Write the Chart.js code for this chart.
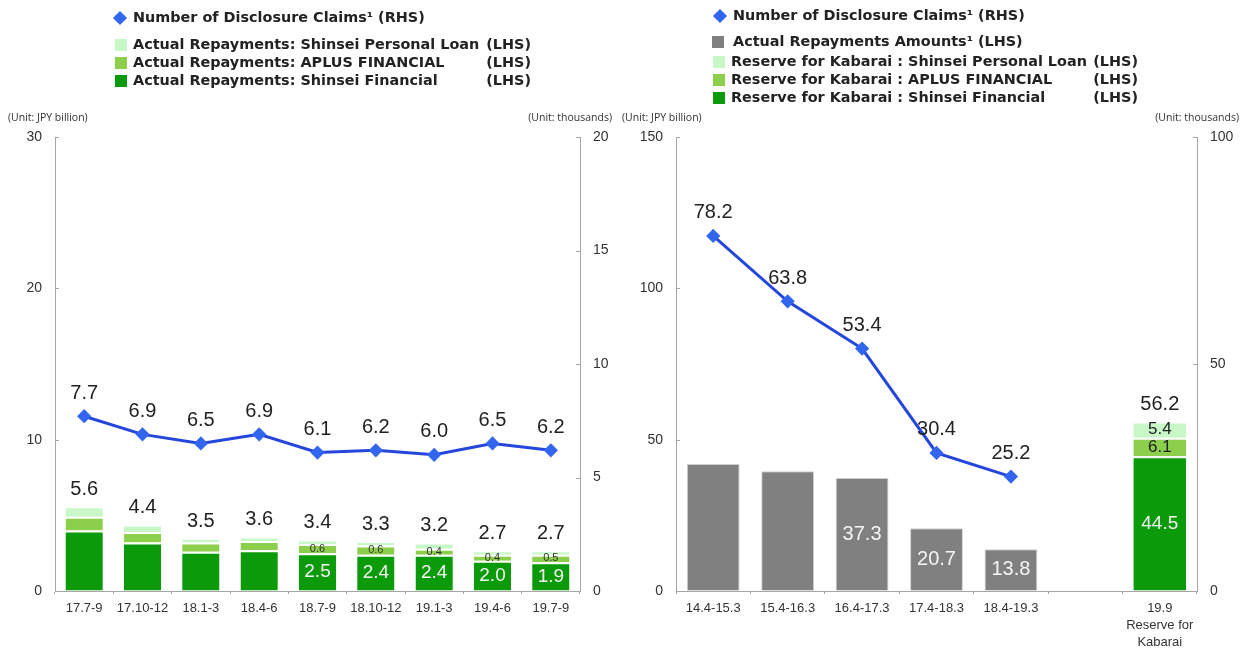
<!DOCTYPE html>
<html>
<head>
<meta charset="utf-8">
<script src="https://cdn.jsdelivr.net/npm/chart.js@4.4.1/dist/chart.umd.min.js"></script>
<style>
  html, body { margin: 0; padding: 0; background: #fff; }
  #page { position: relative; width: 1245px; height: 650px; overflow: hidden; font-family: "Liberation Sans", Arial, sans-serif; }
  canvas { position: absolute; top: 0; }
  #cvLeft { left: 0; }
  #cvRight { left: 620px; }
  .lg { position: absolute; font-family: "DejaVu Sans", Verdana, sans-serif; font-weight: bold; font-size: 14.4px; color: #222; white-space: nowrap; line-height: 17px; }
  .lg .tag { position: absolute; top: 0; }
  .sq { position: absolute; width: 12px; height: 12px; }
  .dia { position: absolute; width: 10px; height: 10px; background: #3366ee; transform: rotate(45deg); }
  .unit { position: absolute; font-family: "Open Sans", sans-serif; font-size: 10.5px; color: #333; white-space: nowrap; }
</style>
</head>
<body>
<div id="page">
  <canvas id="cvLeft" width="620" height="650"></canvas>
  <canvas id="cvRight" width="625" height="650"></canvas>

  <!-- left legend -->
  <div class="dia" style="left:115px; top:13px;"></div>
  <div class="lg" style="left:133px; top:9px;">Number of Disclosure Claims¹ (RHS)</div>
  <div class="sq" style="left:115px; top:39px; background:#c8f7c8;"></div>
  <div class="lg" style="left:133px; top:36px; width:398px;">Actual Repayments: Shinsei Personal Loan<span class="tag" style="right:0">(LHS)</span></div>
  <div class="sq" style="left:115px; top:57px; background:#8ccf4d;"></div>
  <div class="lg" style="left:133px; top:54px; width:398px;">Actual Repayments: APLUS FINANCIAL<span class="tag" style="right:0">(LHS)</span></div>
  <div class="sq" style="left:115px; top:75px; background:#0a9a0a;"></div>
  <div class="lg" style="left:133px; top:72px; width:398px;">Actual Repayments: Shinsei Financial<span class="tag" style="right:0">(LHS)</span></div>

  <!-- right legend -->
  <div class="dia" style="left:715px; top:11px;"></div>
  <div class="lg" style="left:733px; top:7px;">Number of Disclosure Claims¹ (RHS)</div>
  <div class="sq" style="left:712px; top:36px; background:#808080;"></div>
  <div class="lg" style="left:733px; top:33px;">Actual Repayments Amounts¹ (LHS)</div>
  <div class="sq" style="left:713px; top:56px; background:#c8f7c8;"></div>
  <div class="lg" style="left:731px; top:53px; width:407px;">Reserve for Kabarai : Shinsei Personal Loan<span class="tag" style="right:0">(LHS)</span></div>
  <div class="sq" style="left:713px; top:74px; background:#8ccf4d;"></div>
  <div class="lg" style="left:731px; top:71px; width:407px;">Reserve for Kabarai : APLUS FINANCIAL<span class="tag" style="right:0">(LHS)</span></div>
  <div class="sq" style="left:713px; top:92px; background:#0a9a0a;"></div>
  <div class="lg" style="left:731px; top:89px; width:407px;">Reserve for Kabarai : Shinsei Financial<span class="tag" style="right:0">(LHS)</span></div>

  <!-- unit captions -->
  <div class="unit" style="left:8px; top:110px;">(Unit: JPY billion)</div>
  <div class="unit" style="right:633px; top:110px;">(Unit: thousands)</div>
  <div class="unit" style="left:622px; top:110px;">(Unit: JPY billion)</div>
  <div class="unit" style="right:6px; top:110px;">(Unit: thousands)</div>
</div>

<script>
// ---- quarterly panel ----
const quarters = ['17.7-9', '17.10-12', '18.1-3', '18.4-6', '18.7-9', '18.10-12', '19.1-3', '19.4-6', '19.7-9'];
const claimsQuarterly = [7.7, 6.9, 6.5, 6.9, 6.1, 6.2, 6.0, 6.5, 6.2];           // thousands (RHS)
const shinseiFinancialQ = [4.0, 3.2, 2.6, 2.7, 2.5, 2.4, 2.4, 2.0, 1.9];         // JPY bn (LHS)
const aplusQ = [0.9, 0.7, 0.6, 0.6, 0.6, 0.6, 0.4, 0.4, 0.5];
const personalLoanQ = [0.7, 0.5, 0.3, 0.3, 0.3, 0.3, 0.4, 0.3, 0.3];
const totalsQ = [5.6, 4.4, 3.5, 3.6, 3.4, 3.3, 3.2, 2.7, 2.7];
const leftTicksLHS = [0, 10, 20, 30];
const leftTicksRHS = [0, 5, 10, 15, 20];

// ---- annual panel ----
const periods = ['14.4-15.3', '15.4-16.3', '16.4-17.3', '17.4-18.3', '18.4-19.3', '', ['19.9', 'Reserve for', 'Kabarai']];
const claimsAnnual = [78.2, 63.8, 53.4, 30.4, 25.2, null, null];              // thousands (RHS)
const repaymentAmounts = [42.0, 39.6, 37.3, 20.7, 13.8, null, null];          // JPY bn (LHS)
const reserveShinseiFinancial = [null, null, null, null, null, null, 44.5];
const reserveAplus = [null, null, null, null, null, null, 6.1];
const reservePersonalLoan = [null, null, null, null, null, null, 5.4];
const reserveTotals = [null, null, null, null, null, null, 56.2];
const rightTicksLHS = [0, 50, 100, 150];
const rightTicksRHS = [0, 50, 100];

const C_DARK = '#0a9a0a', C_MID = '#8ccf4d', C_LIGHT = '#c8f7c8', C_GRAY = '#808080';
const C_LINE = '#2446dc', C_POINT = '#3366ee', C_AXIS = '#a6a6a6';
const NUM_FONT = '"Liberation Sans", Arial, sans-serif';

// value labels drawn on top of the datasets
const valueLabels = {
  id: 'valueLabels',
  afterDatasetsDraw(chart, args, opts) {
    const ctx = chart.ctx;
    ctx.save();
    ctx.textAlign = 'center';
    ctx.textBaseline = 'middle';
    (opts.items || []).forEach(it => {
      const meta = chart.getDatasetMeta(it.dataset);
      const data = chart.data.datasets[it.dataset].data;
      meta.data.forEach((el, i) => {
        const v = data[i];
        if (v == null) return;
        if (it.only && !it.only.includes(i)) return;
        const y = it.pos === 'center' ? (el.y + el.base) / 2 : el.y - it.offset;
        ctx.font = (it.weight || 'normal') + ' ' + it.size + 'px ' + NUM_FONT;
        ctx.fillStyle = it.color;
        ctx.fillText(v.toFixed(1), el.x, y);
      });
    });
    if (opts.totals) {
      const t = opts.totals;
      const meta = chart.getDatasetMeta(t.dataset);
      meta.data.forEach((el, i) => {
        const v = t.values[i];
        if (v == null) return;
        ctx.font = t.size + 'px ' + NUM_FONT;
        ctx.fillStyle = t.color;
        ctx.fillText(v.toFixed(1), el.x, el.y - t.offset);
      });
    }
    ctx.restore();
  }
};

// short tick marks on the inner side of both value axes
const innerTicks = {
  id: 'innerTicks',
  afterDraw(chart) {
    const ctx = chart.ctx;
    ctx.save();
    ctx.strokeStyle = C_AXIS;
    ctx.lineWidth = 1;
    ['y', 'y1'].forEach(id => {
      const s = chart.scales[id];
      if (!s) return;
      const x0 = s.position === 'left' ? s.right : s.left;
      const dir = s.position === 'left' ? 1 : -1;
      s.ticks.forEach(t => {
        const y = Math.round(s.getPixelForValue(t.value)) + 0.5;
        ctx.beginPath();
        ctx.moveTo(x0, y);
        ctx.lineTo(x0 + dir * 4, y);
        ctx.stroke();
      });
    });
    ctx.restore();
  }
};

function valueAxis(position, min, max, ticks, width) {
  return {
    position, min, max,
    stacked: position === 'left',
    afterBuildTicks(s) { s.ticks = ticks.map(v => ({ value: v })); },
    afterFit(s) { s.width = width; },
    ticks: { color: '#333', padding: 13, font: { family: NUM_FONT, size: 14 } },
    grid: { display: true, drawOnChartArea: false, drawTicks: false },
    border: { display: true, color: C_AXIS, width: 1 }
  };
}

function categoryAxis(height) {
  return {
    stacked: true,
    offset: true,
    afterFit(s) { s.height = height; },
    ticks: { color: '#333', padding: 6, maxRotation: 0, autoSkip: false, font: { family: NUM_FONT, size: 13, lineHeight: 1.3 } },
    grid: { display: true, drawOnChartArea: false, drawTicks: true, tickLength: 3, color: C_AXIS, offset: true },
    border: { display: true, color: C_AXIS, width: 1 }
  };
}

const lineStyle = {
  type: 'line', yAxisID: 'y1', borderColor: C_LINE, borderWidth: 3,
  pointStyle: 'rectRot', pointRadius: 5, pointBackgroundColor: C_POINT, pointBorderColor: C_POINT,
  tension: 0, order: 0, spanGaps: false
};
const segBorder = { borderColor: '#ffffff', borderWidth: { top: 2, left: 0, right: 0, bottom: 0 }, borderSkipped: false };

new Chart(document.getElementById('cvLeft'), {
  data: {
    labels: quarters,
    datasets: [
      Object.assign({ label: 'Number of Disclosure Claims', data: claimsQuarterly }, lineStyle),
      Object.assign({ type: 'bar', label: 'Shinsei Financial', data: shinseiFinancialQ, backgroundColor: C_DARK, yAxisID: 'y', order: 1 }, segBorder),
      Object.assign({ type: 'bar', label: 'APLUS FINANCIAL', data: aplusQ, backgroundColor: C_MID, yAxisID: 'y', order: 1 }, segBorder),
      Object.assign({ type: 'bar', label: 'Shinsei Personal Loan', data: personalLoanQ, backgroundColor: C_LIGHT, yAxisID: 'y', order: 1 }, segBorder)
    ]
  },
  options: {
    responsive: false, animation: false,
    datasets: { bar: { categoryPercentage: 1, barPercentage: 0.64 } },
    layout: { padding: { top: 137, left: 0, right: 0, bottom: 0 } },
    scales: {
      x: categoryAxis(59),
      y: valueAxis('left', 0, 30, leftTicksLHS, 55),
      y1: valueAxis('right', 0, 20, leftTicksRHS, 40)
    },
    plugins: {
      legend: { display: false }, tooltip: { enabled: false },
      valueLabels: {
        items: [
          { dataset: 0, pos: 'above', offset: 23, size: 20, color: '#222' },
          { dataset: 1, pos: 'center', size: 19, color: '#f4f4f4', only: [4, 5, 6, 7, 8] },
          { dataset: 2, pos: 'center', size: 11, color: '#333', only: [4, 5, 6, 7, 8] }
        ],
        totals: { dataset: 3, values: totalsQ, offset: 17, size: 20, color: '#222' }
      }
    }
  },
  plugins: [valueLabels, innerTicks]
});

new Chart(document.getElementById('cvRight'), {
  data: {
    labels: periods,
    datasets: [
      Object.assign({ label: 'Number of Disclosure Claims', data: claimsAnnual }, lineStyle),
      { type: 'bar', label: 'Actual Repayments Amounts', data: repaymentAmounts, backgroundColor: C_GRAY, borderColor: '#d0d0d0', borderWidth: 1, yAxisID: 'y', order: 1 },
      Object.assign({ type: 'bar', label: 'Reserve: Shinsei Financial', data: reserveShinseiFinancial, backgroundColor: C_DARK, yAxisID: 'y', order: 1 }, segBorder),
      Object.assign({ type: 'bar', label: 'Reserve: APLUS FINANCIAL', data: reserveAplus, backgroundColor: C_MID, yAxisID: 'y', order: 1 }, segBorder),
      Object.assign({ type: 'bar', label: 'Reserve: Shinsei Personal Loan', data: reservePersonalLoan, backgroundColor: C_LIGHT, yAxisID: 'y', order: 1 }, segBorder)
    ]
  },
  options: {
    responsive: false, animation: false,
    datasets: { bar: { categoryPercentage: 1, barPercentage: 0.71 } },
    layout: { padding: { top: 137, left: 0, right: 0, bottom: 0 } },
    scales: {
      x: categoryAxis(59),
      y: valueAxis('left', 0, 150, rightTicksLHS, 56),
      y1: valueAxis('right', 0, 100, rightTicksRHS, 48)
    },
    plugins: {
      legend: { display: false }, tooltip: { enabled: false },
      valueLabels: {
        items: [
          { dataset: 0, pos: 'above', offset: 23, size: 20, color: '#222' },
          { dataset: 1, pos: 'center', size: 20, color: '#f4f4f4', only: [2, 3, 4] },
          { dataset: 2, pos: 'center', size: 19, color: '#f4f4f4' },
          { dataset: 3, pos: 'center', size: 17, color: '#222' },
          { dataset: 4, pos: 'center', size: 17, color: '#222' }
        ],
        totals: { dataset: 4, values: reserveTotals, offset: 17, size: 20, color: '#222' }
      }
    }
  },
  plugins: [valueLabels, innerTicks]
});
</script>
</body>
</html>
